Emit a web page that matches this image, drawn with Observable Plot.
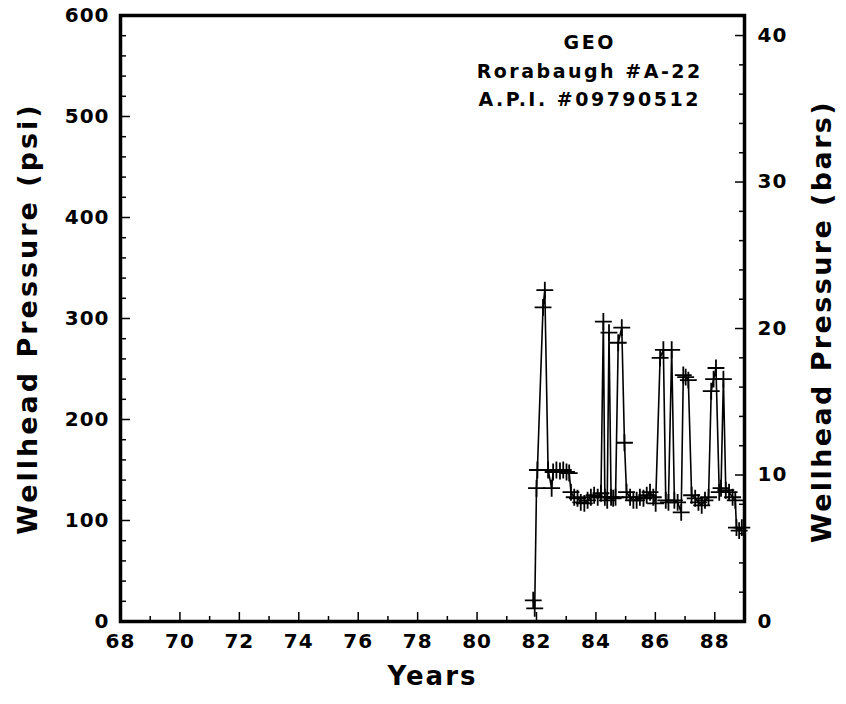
<!DOCTYPE html>
<html>
<head>
<meta charset="utf-8">
<script src="https://cdn.jsdelivr.net/npm/d3@7"></script>
<script src="https://cdn.jsdelivr.net/npm/@observablehq/plot@0.6"></script>
<style>
  html, body { margin: 0; padding: 0; background: #fff; }
  #chart { width: 846px; height: 704px; }
</style>
</head>
<body>
<div id="chart"></div>
<script>
// ---- data ----
const years = [81.89, 81.94, 82.00, 82.03, 82.22, 82.28, 82.39, 82.51, 82.56, 82.67, 82.79, 82.90, 83.01, 83.10,
  83.16, 83.27, 83.38, 83.49, 83.61, 83.72, 83.83, 83.94, 84.06, 84.17, 84.25, 84.30, 84.38, 84.44, 84.51,
  84.58, 84.66, 84.75, 84.87, 84.96, 85.03, 85.15, 85.26, 85.37, 85.48, 85.60, 85.71, 85.82, 85.93, 86.01,
  86.16, 86.27, 86.35, 86.44, 86.55, 86.64, 86.75, 86.87, 86.94, 87.02, 87.11, 87.22, 87.34, 87.45, 87.56,
  87.67, 87.79, 87.88, 87.96, 88.04, 88.15, 88.21, 88.29, 88.37, 88.48, 88.60, 88.69, 88.73, 88.82, 88.91];
const psi = [21, 13, 132, 150, 311, 328, 150, 132, 148, 150, 149, 150, 148, 147,
  128, 123, 122, 118, 117, 120, 123, 125, 123, 127, 297, 123, 120, 286, 123,
  122, 123, 276, 291, 177, 128, 123, 120, 120, 123, 122, 125, 128, 123, 117,
  261, 269, 120, 118, 269, 120, 118, 108, 244, 242, 239, 125, 122, 118, 115,
  120, 123, 228, 240, 251, 128, 132, 240, 130, 128, 123, 120, 93, 90, 93];

const xTickLabels = [68, 70, 72, 74, 76, 78, 80, 82, 84, 86, 88];
const xMinorTicks = [69, 71, 73, 75, 77, 79, 81, 83, 85, 87];
const psiTickLabels = [0, 100, 200, 300, 400, 500, 600];
const psiMinorTicks = [20, 40, 60, 80, 120, 140, 160, 180, 220, 240, 260, 280, 320, 340, 360, 380, 420, 440, 460, 480, 520, 540, 560, 580];
const barTickLabels = [0, 10, 20, 30, 40];
const barMinorTicks = [2, 4, 6, 8, 12, 14, 16, 18, 22, 24, 26, 28, 32, 34, 36, 38];
const PSI_PER_BAR = 14.5038;

const noteLines = ["GEO", "Rorabaugh #A-22", "A.P.I. #09790512"];
const xLabel = "Years";
const yLabelLeft = "Wellhead Pressure (psi)";
const yLabelRight = "Wellhead Pressure (bars)";

const data = years.map((y, i) => ({year: y, psi: psi[i]}));
const font = "'DejaVu Sans', sans-serif";

const chart = Plot.plot({
  width: 846,
  height: 704,
  marginLeft: 120,
  marginRight: 102,
  marginTop: 15,
  marginBottom: 83,
  style: {fontFamily: font, fontWeight: "bold", color: "#000", background: "#fff"},
  x: {domain: [68, 89]},
  y: {domain: [0, 600]},
  marks: [
    // bottom axis
    Plot.axisX({ticks: xTickLabels, tickSize: -9, tickPadding: 21, fontSize: 20, strokeWidth: 1.5, label: null}),
    Plot.axisX({ticks: xMinorTicks, tickSize: -5, tickFormat: () => "", strokeWidth: 1.5, label: null}),
    // left axis
    Plot.axisY({ticks: psiTickLabels, tickSize: -10, tickPadding: 21, fontSize: 20, strokeWidth: 1.5, label: null}),
    Plot.axisY({ticks: psiMinorTicks, tickSize: -6, tickFormat: () => "", strokeWidth: 1.5, label: null}),
    // right axis (bars)
    Plot.axisY({anchor: "right", ticks: barTickLabels.map(b => b * PSI_PER_BAR), tickFormat: d => String(Math.round(d / PSI_PER_BAR)),
      tickSize: -10, tickPadding: 23, fontSize: 20, strokeWidth: 1.5, label: null}),
    Plot.axisY({anchor: "right", ticks: barMinorTicks.map(b => b * PSI_PER_BAR), tickFormat: () => "", tickSize: -6, strokeWidth: 1.5, label: null}),
    Plot.frame({strokeWidth: 3.5}),
    Plot.line(data, {x: "year", y: "psi", stroke: "#000", strokeWidth: 1.6}),
    Plot.dot(data, {x: "year", y: "psi", symbol: "plus", r: 5.5, stroke: "#000", strokeWidth: 1.8}),
    // annotation
    Plot.text(noteLines, {x: 83.79, y: (d, i) => 573 - i * 28.5, text: d => d, fontSize: 19, fontWeight: "bold",
      textAnchor: "middle", fill: "#000"}),
    // axis titles
    Plot.text([xLabel], {frameAnchor: "bottom", dy: 63, fontSize: 26, fontWeight: "bold", fill: "#000", text: d => d, textAnchor: "middle"}),
    Plot.text([yLabelLeft], {frameAnchor: "left", rotate: -90, dx: -92, fontSize: 27, fontWeight: "bold", fill: "#000", text: d => d, textAnchor: "middle"}),
    Plot.text([yLabelRight], {frameAnchor: "right", rotate: -90, dx: 78, dy: 3, fontSize: 27, fontWeight: "bold", fill: "#000", text: d => d, textAnchor: "middle"})
  ]
});
// lettering: wider spacing like the reference; make tick labels larger
chart.querySelectorAll("text").forEach(t => {
  const s = t.textContent;
  if (s === yLabelLeft) t.setAttribute("letter-spacing", "3");
  else if (s === yLabelRight) t.setAttribute("letter-spacing", "2.4");
  else if (s === xLabel) t.setAttribute("letter-spacing", "2");
  else if (noteLines.includes(s)) t.setAttribute("letter-spacing", "2.5");
});
chart.querySelectorAll('g[aria-label$="tick label"]').forEach(g => {
  g.setAttribute("font-size", "20");
  g.style.fontSize = "20px";
  g.querySelectorAll("text").forEach(t => t.setAttribute("letter-spacing", "1"));
});
document.getElementById("chart").appendChild(chart);
</script>
</body>
</html>
